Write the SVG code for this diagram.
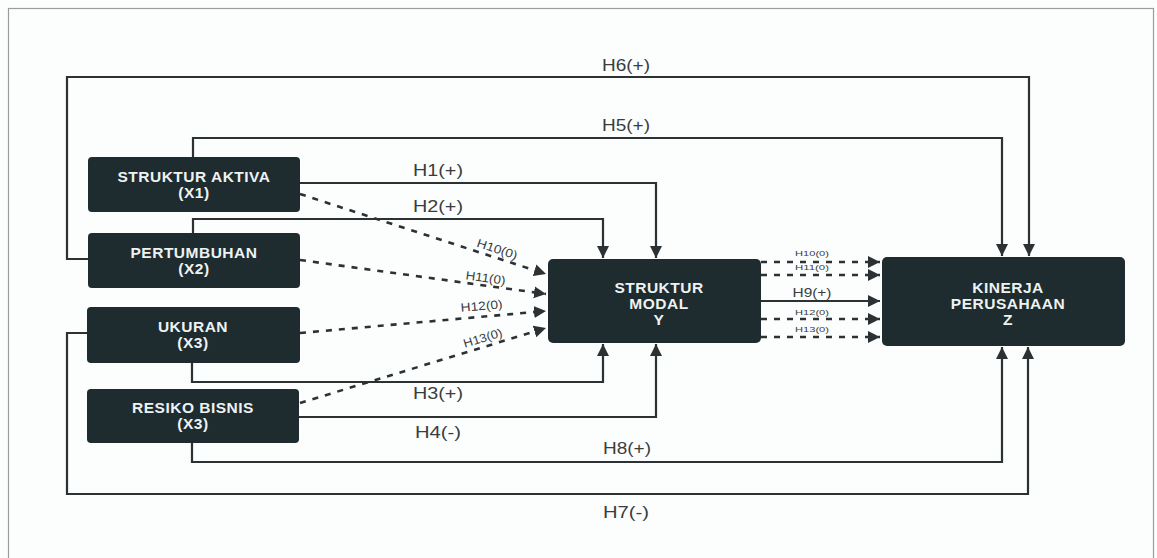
<svg xmlns="http://www.w3.org/2000/svg" width="1157" height="558" viewBox="0 0 1157 558">
<style>
.node{fill:#1e2c2f}
.nt{fill:#eef2f2;font-family:"Liberation Sans",Arial,sans-serif;font-weight:bold;font-size:15.5px;letter-spacing:0.5px;text-anchor:middle}
.ln{fill:none;stroke:#2c3133;stroke-width:2.2}
.dl{fill:none;stroke:#2c3133;stroke-width:2.6;stroke-dasharray:6 7}
.lb{fill:#3a3d3e;font-family:"Liberation Sans",Arial,sans-serif;font-size:16px;text-anchor:middle}
.lm{fill:#3a3d3e;font-family:"Liberation Sans",Arial,sans-serif;font-size:12px;text-anchor:middle}
.ls{fill:#3a3d3e;font-family:"Liberation Sans",Arial,sans-serif;font-size:7px;text-anchor:middle}
</style>
<defs>
<marker id="ah" viewBox="0 0 10 10" refX="10" refY="5" markerUnits="userSpaceOnUse" markerWidth="12" markerHeight="13" orient="auto">
<path d="M0,0 L10,5 L0,10 z" fill="#2c3133"/>
</marker>
</defs>
<rect x="0" y="0" width="1157" height="558" fill="#fcfdfd"/>
<rect x="8.5" y="8.5" width="1145" height="570" fill="none" stroke="#9a9d9e" stroke-width="1.2"/>

<g id="connectors">
<!-- H6 -->
<path class="ln" d="M88,259 H67 V77 H1029 V256" marker-end="url(#ah)"/>
<!-- H5 -->
<path class="ln" d="M193,157 V138 H1002 V256" marker-end="url(#ah)"/>
<!-- H1 -->
<path class="ln" d="M300,183 H656 V258" marker-end="url(#ah)"/>
<!-- H2 -->
<path class="ln" d="M193,233 V219 H603 V258" marker-end="url(#ah)"/>
<!-- H3 -->
<path class="ln" d="M192,363 V382 H603 V344" marker-end="url(#ah)"/>
<!-- H4 -->
<path class="ln" d="M299,417 H656 V344" marker-end="url(#ah)"/>
<!-- H8 -->
<path class="ln" d="M192,443 V462 H1002 V347" marker-end="url(#ah)"/>
<!-- H7 -->
<path class="ln" d="M87,333 H67 V494 H1028 V347" marker-end="url(#ah)"/>
<!-- dashed into modal -->
<path class="dl" d="M300,194 L546,274" marker-end="url(#ah)"/>
<path class="dl" d="M300,260 L546,294" marker-end="url(#ah)"/>
<path class="dl" d="M300,333 L546,311" marker-end="url(#ah)"/>
<path class="dl" d="M300,403 L546,328" marker-end="url(#ah)"/>
<!-- modal to kinerja -->
<path class="dl" d="M761,262 H880" marker-end="url(#ah)"/>
<path class="dl" d="M761,275 H880" marker-end="url(#ah)"/>
<path class="ln" d="M761,301 H880" marker-end="url(#ah)"/>
<path class="dl" d="M761,319 H880" marker-end="url(#ah)"/>
<path class="dl" d="M761,337 H880" marker-end="url(#ah)"/>

<!-- labels -->
<text class="lb" x="626" y="71" textLength="48" lengthAdjust="spacingAndGlyphs">H6(+)</text>
<text class="lb" x="626" y="131" textLength="48" lengthAdjust="spacingAndGlyphs">H5(+)</text>
<text class="lb" x="438" y="176" textLength="50" lengthAdjust="spacingAndGlyphs">H1(+)</text>
<text class="lb" x="438" y="212" textLength="50" lengthAdjust="spacingAndGlyphs">H2(+)</text>
<text class="lb" x="438" y="399" textLength="50" lengthAdjust="spacingAndGlyphs">H3(+)</text>
<text class="lb" x="438" y="438" textLength="46" lengthAdjust="spacingAndGlyphs">H4(-)</text>
<text class="lb" x="627" y="454" textLength="48" lengthAdjust="spacingAndGlyphs">H8(+)</text>
<text class="lb" x="626" y="518" textLength="46" lengthAdjust="spacingAndGlyphs">H7(-)</text>

<text class="lm" transform="translate(496,253) rotate(18.3)" textLength="42" lengthAdjust="spacingAndGlyphs">H10(0)</text>
<text class="lm" transform="translate(485,282) rotate(7.9)" textLength="40" lengthAdjust="spacingAndGlyphs">H11(0)</text>
<text class="lm" transform="translate(482,310) rotate(-5.1)" textLength="42" lengthAdjust="spacingAndGlyphs">H12(0)</text>
<text class="lm" transform="translate(484,342) rotate(-17)" textLength="40" lengthAdjust="spacingAndGlyphs">H13(0)</text>

<text class="ls" x="812" y="256" textLength="34" lengthAdjust="spacingAndGlyphs">H10(0)</text>
<text class="ls" x="812" y="270" textLength="34" lengthAdjust="spacingAndGlyphs">H11(0)</text>
<text class="lm" x="812" y="297" textLength="39" lengthAdjust="spacingAndGlyphs">H9(+)</text>
<text class="ls" x="812" y="315" textLength="34" lengthAdjust="spacingAndGlyphs">H12(0)</text>
<text class="ls" x="812" y="332" textLength="34" lengthAdjust="spacingAndGlyphs">H13(0)</text>
</g>

<g id="x1">
<rect class="node" x="88" y="157" width="212" height="55" rx="4"/>
<text class="nt" x="194" y="182">STRUKTUR AKTIVA</text>
<text class="nt" x="194" y="198">(X1)</text>
</g>
<g id="x2">
<rect class="node" x="88" y="233" width="212" height="55" rx="4"/>
<text class="nt" x="194" y="258">PERTUMBUHAN</text>
<text class="nt" x="194" y="274">(X2)</text>
</g>
<g id="x3">
<rect class="node" x="87" y="307" width="213" height="56" rx="4"/>
<text class="nt" x="193" y="332">UKURAN</text>
<text class="nt" x="193" y="348">(X3)</text>
</g>
<g id="x4">
<rect class="node" x="87" y="389" width="212" height="54" rx="4"/>
<text class="nt" x="193" y="413">RESIKO BISNIS</text>
<text class="nt" x="193" y="429">(X3)</text>
</g>
<g id="y">
<rect class="node" x="548" y="259" width="213" height="84" rx="5"/>
<text class="nt" x="659" y="293">STRUKTUR</text>
<text class="nt" x="659" y="309">MODAL</text>
<text class="nt" x="659" y="325">Y</text>
</g>
<g id="z">
<rect class="node" x="882" y="257" width="243" height="89" rx="5"/>
<text class="nt" x="1008" y="293">KINERJA</text>
<text class="nt" x="1008" y="309">PERUSAHAAN</text>
<text class="nt" x="1008" y="325">Z</text>
</g>
</svg>
